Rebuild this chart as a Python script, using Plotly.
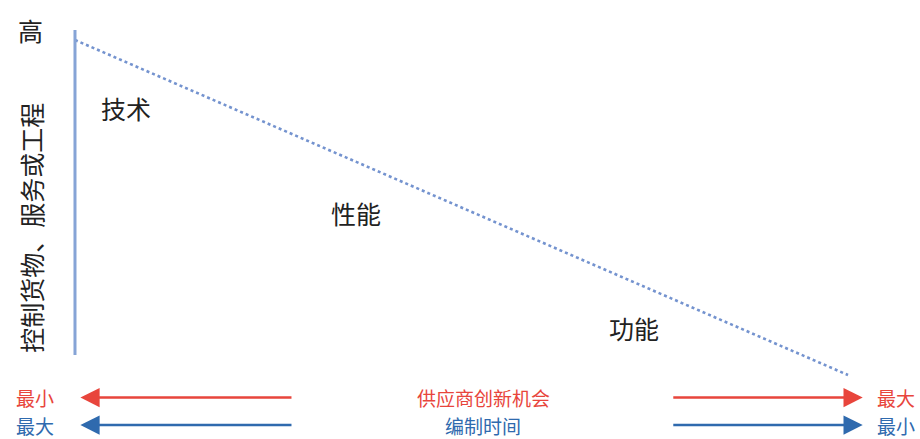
import plotly.graph_objects as go

# ---- data ----
trend_x = [0, 10]
trend_y = [10, 0]
level_labels = ["技术", "性能", "功能"]
y_title = "控制货物、服务或工程"
y_top_label = "高"
row1_text = ["最小", "供应商创新机会", "最大"]
row2_text = ["最大", "编制时间", "最小"]

FONT = "Noto Sans CJK SC"
RED = "#e8453c"
BLUE = "#2f6aae"

fig = go.Figure()
fig.add_trace(go.Scatter(
    x=trend_x, y=trend_y, mode="lines",
    line=dict(color="#7493cf", width=2.6, dash="dot"),
    hoverinfo="skip", showlegend=False))

shapes = [dict(type="line", xref="x", yref="y", x0=0, x1=0, y0=10.3, y1=0.6,
               line=dict(color="#86a4d6", width=3))]

ann = []
# level labels
for txt, (x, y) in zip(level_labels, [(0.66, 7.97), (3.635, 4.84), (7.23, 1.40)]):
    ann.append(dict(x=x, y=y, text=txt, showarrow=False,
                    font=dict(family=FONT, size=25, color="#222222")))
ann.append(dict(x=-0.58, y=10.30, text=y_top_label, showarrow=False, textangle=0,
                font=dict(family=FONT, size=25, color="#222222")))
ann.append(dict(x=-0.57, y=4.39, text=y_title, showarrow=False, textangle=-90,
                font=dict(family=FONT, size=25, color="#222222")))

# bottom arrows
for y, color, texts in [(-0.672, RED, row1_text), (-1.493, BLUE, row2_text)]:
    for tip, tail in [(0.07, 2.82), (10.19, 7.72)]:
        ann.append(dict(x=tip, y=y, ax=tail, ay=y, axref="x", ayref="y",
                        xref="x", yref="y", text="", showarrow=True,
                        arrowhead=2, arrowsize=1.6, arrowwidth=2.4,
                        arrowcolor=color, standoff=0))
    for txt, x in zip(texts, [-0.52, 5.28, 10.62]):
        ann.append(dict(x=x, y=y, text=txt, showarrow=False, borderpad=0,
                        font=dict(family=FONT, size=19, color=color)))

fig.update_layout(
    width=920, height=439,
    margin=dict(l=0, r=0, t=0, b=0),
    paper_bgcolor="white", plot_bgcolor="white",
    xaxis=dict(range=[-0.970, 10.931], visible=False, fixedrange=True),
    yaxis=dict(range=[-1.910, 11.194], visible=False, fixedrange=True),
    shapes=shapes, annotations=ann,
)
fig.write_html("out.html", config={"displayModeBar": False},
               post_script="document.body.style.margin='0';document.body.style.overflow='hidden';")
